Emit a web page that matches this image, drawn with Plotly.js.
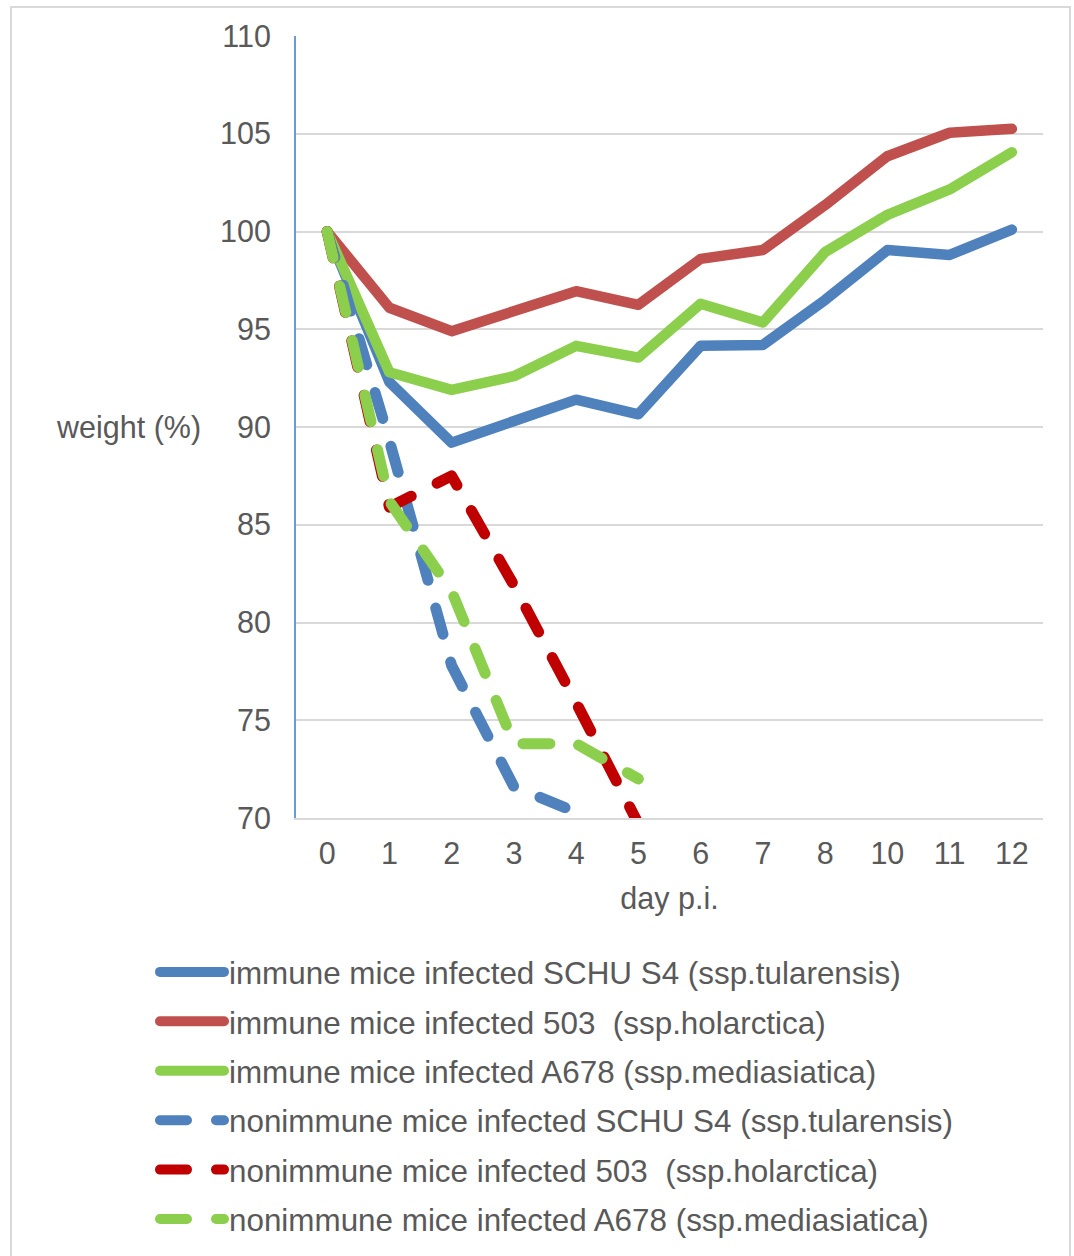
<!DOCTYPE html>
<html>
<head>
<meta charset="utf-8">
<script src="https://cdn.plot.ly/plotly-3.0.1.min.js"></script>
<style>
  html, body { margin: 0; padding: 0; background: #ffffff; }
  #chart { width: 1074px; height: 1256px; position: relative; }
  #frame { position: absolute; left: 10px; top: 6px; width: 1061px; height: 1262px;
           border: 2px solid #d9d9d9; box-sizing: border-box; pointer-events: none; }
  .scatterlayer path.js-line, .legendlines path { stroke-linecap: round; stroke-linejoin: round; }
</style>
</head>
<body>
<div id="chart"></div>
<div id="frame"></div>
<script>
// Category days (x axis, categorical)
const days = ["0", "1", "2", "3", "4", "5", "6", "7", "8", "10", "11", "12"];
const yTicks = [70, 75, 80, 85, 90, 95, 100, 105, 110];

// Series names
const nameImmSchu = "immune mice infected SCHU S4 (ssp.tularensis)";
const nameImm503 = "immune mice infected 503  (ssp.holarctica)";
const nameImmA678 = "immune mice infected A678 (ssp.mediasiatica)";
const nameNonSchu = "nonimmune mice infected SCHU S4 (ssp.tularensis)";
const nameNon503 = "nonimmune mice infected 503  (ssp.holarctica)";
const nameNonA678 = "nonimmune mice infected A678 (ssp.mediasiatica)";

// Weight (%) values
const immSchu = [100, 92.3, 89.2, 90.3, 91.4, 90.65, 94.15, 94.2, 96.5, 99.05, 98.8, 100.1];
const imm503  = [100, 96.1, 94.9, 95.9, 96.95, 96.25, 98.6, 99.05, 101.35, 103.85, 105.05, 105.25];
const immA678 = [100, 92.8, 91.9, 92.6, 94.15, 93.55, 96.3, 95.35, 98.95, 100.85, 102.15, 104.05];
const nonSchu = [100, 89.3, 77.8, 71.6, 70.3];
const non503  = [100, 85.9, 87.5, 81.9, 75.9, 69.7];
const nonA678 = [100, 86.2, 81.6, 73.8, 73.8, 72.0];

const cBlue = "#4f81bd", cRed = "#c0504d", cGreen = "#8ccf4d", cDarkRed = "#c00000";
const txt = "#595959";
const FONT = "'Liberation Sans', Arial, sans-serif";

function solid(name, y, color, g) {
  return { type: "scatter", mode: "lines", name: name, x: days.slice(0, y.length), y: y,
           legendgroup: g, line: { color: color, width: 10.5 }, hoverinfo: "skip" };
}
function dashed(name, y, color, g) {
  return { type: "scatter", mode: "lines", name: name, x: days.slice(0, y.length), y: y,
           legendgroup: g, line: { color: color, width: 11, dash: "27px,29px" }, hoverinfo: "skip" };
}

const data = [
  solid(nameImmSchu, immSchu, cBlue, "a"),
  solid(nameImm503, imm503, cRed, "b"),
  solid(nameImmA678, immA678, cGreen, "c"),
  dashed(nameNonSchu, nonSchu, cBlue, "d"),
  dashed(nameNon503, non503, cDarkRed, "e"),
  dashed(nameNonA678, nonA678, cGreen, "f")
];

const layout = {
  width: 1074, height: 1256,
  margin: { l: 296, r: 31, t: 36, b: 438, autoexpand: false },
  paper_bgcolor: "#ffffff", plot_bgcolor: "#ffffff",
  font: { family: FONT, color: txt, size: 30 },
  showlegend: true,
  xaxis: {
    type: "category", categoryorder: "array", categoryarray: days,
    tickvals: days, ticktext: days, range: [-0.5, 11.5],
    showgrid: false, zeroline: false,
    showline: true, linecolor: "#d9d9d9", linewidth: 2,
    ticks: "outside", ticklen: 7, tickcolor: "rgba(0,0,0,0)",
    tickfont: { family: FONT, size: 30.5, color: txt },
    title: { text: "day p.i.", font: { family: FONT, size: 30.5, color: txt }, standoff: 19 },
    fixedrange: true
  },
  yaxis: {
    range: [70, 110], tickvals: yTicks, ticktext: yTicks.map(String),
    showgrid: true, gridcolor: "#d9d9d9", gridwidth: 2,
    zeroline: false, showline: true, linecolor: "#6a9bd8", linewidth: 2,
    ticks: "outside", ticklen: 17, tickcolor: "rgba(0,0,0,0)",
    tickfont: { family: FONT, size: 30.5, color: txt },
    fixedrange: true
  },
  legend: {
    orientation: "v", traceorder: "grouped",
    xref: "container", yref: "container",
    x: 155 / 1074, xanchor: "left",
    y: 1 - 945 / 1256, yanchor: "top",
    itemwidth: 64, tracegroupgap: 5.6,
    font: { family: FONT, size: 31.4, color: txt },
    bgcolor: "rgba(0,0,0,0)", borderwidth: 0
  },
  annotations: [{
    text: "weight (%)", xref: "paper", yref: "y",
    x: (128 - 296) / 747, y: 90, xanchor: "center", yanchor: "middle",
    showarrow: false, font: { family: FONT, size: 30.5, color: txt }
  }]
};

Plotly.newPlot("chart", data, layout, { displayModeBar: false, staticPlot: true });
</script>
</body>
</html>
